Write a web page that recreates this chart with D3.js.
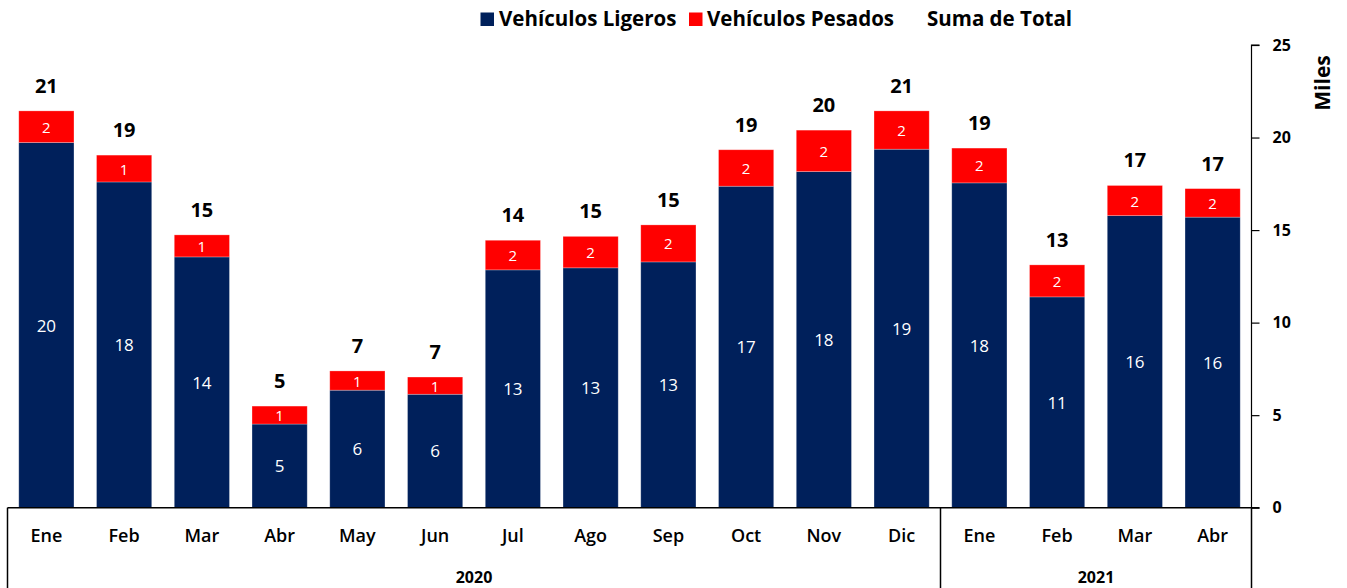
<!DOCTYPE html>
<html>
<head>
<meta charset="utf-8">
<script src="https://cdn.jsdelivr.net/npm/d3@7"></script>
<style>
  html, body { margin: 0; padding: 0; background: #fff; }
  svg { display: block; font-family: "Open Sans", "Noto Sans", sans-serif; }
</style>
</head>
<body>
<svg id="chart" width="1347" height="588"></svg>
<script>
// Monthly vehicle counts (thousands)
const months = ["Ene","Feb","Mar","Abr","May","Jun","Jul","Ago","Sep","Oct","Nov","Dic","Ene","Feb","Mar","Abr"];
const years = [{ label: "2020", start: 0, end: 12 }, { label: "2021", start: 12, end: 16 }];
const ligeros = [19.73, 17.6, 13.55, 4.52, 6.35, 6.13, 12.85, 12.96, 13.28, 17.37, 18.16, 19.37, 17.55, 11.39, 15.78, 15.7];
const pesados = [1.71, 1.45, 1.19, 0.97, 1.04, 0.93, 1.6, 1.7, 2.0, 1.97, 2.24, 2.07, 1.88, 1.73, 1.63, 1.54];
const yTicks = [0, 5, 10, 15, 20, 25];
const seriesNames = ["Vehículos Ligeros", "Vehículos Pesados", "Suma de Total"];

const colors = { ligeros: "#00205B", pesados: "#FF0000" };

const svg = d3.select("#chart");
const plotLeft = 7.5, plotRight = 1251.5, plotTop = 45, plotBottom = 507.7;

const idx = d3.range(months.length);
const x = d3.scaleBand().domain(idx).range([plotLeft, plotRight]).paddingInner(0.29).paddingOuter(0.145);
const y = d3.scaleLinear().domain([0, 25]).range([plotBottom, plotTop]);

const rows = idx.map(i => ({ i, lig: ligeros[i], pes: pesados[i], total: ligeros[i] + pesados[i] }));
const fmt = d3.format(".0f");

// Stacked bars
const g = svg.append("g");
g.selectAll("rect.lig").data(rows).join("rect").attr("class", "lig")
  .attr("x", d => x(d.i)).attr("width", x.bandwidth())
  .attr("y", d => y(d.lig)).attr("height", d => y(0) - y(d.lig))
  .attr("fill", colors.ligeros)
  .attr("stroke", "#ffffff").attr("stroke-opacity", 0.35).attr("stroke-width", 0.75);
g.selectAll("rect.pes").data(rows).join("rect").attr("class", "pes")
  .attr("x", d => x(d.i)).attr("width", x.bandwidth())
  .attr("y", d => y(d.total)).attr("height", d => y(d.lig) - y(d.total))
  .attr("fill", colors.pesados)
  .attr("stroke", "#ffffff").attr("stroke-opacity", 0.35).attr("stroke-width", 0.75);

// Segment labels
g.selectAll("text.lig").data(rows).join("text").attr("class", "lig")
  .attr("x", d => x(d.i) + x.bandwidth() / 2)
  .attr("y", d => (y(d.lig) + y(0)) / 2)
  .attr("text-anchor", "middle").attr("dominant-baseline", "central")
  .attr("fill", "#fff").attr("font-size", 17)
  .text(d => fmt(d.lig));
g.selectAll("text.pes").data(rows).join("text").attr("class", "pes")
  .attr("x", d => x(d.i) + x.bandwidth() / 2)
  .attr("y", d => (y(d.lig) + y(d.total)) / 2)
  .attr("text-anchor", "middle").attr("dominant-baseline", "central")
  .attr("fill", "#fff").attr("font-size", 15)
  .text(d => fmt(d.pes));

// Totals above bars
g.selectAll("text.tot").data(rows).join("text").attr("class", "tot")
  .attr("x", d => x(d.i) + x.bandwidth() / 2)
  .attr("y", d => y(d.total) - 18)
  .attr("text-anchor", "middle")
  .attr("fill", "#000").attr("font-size", 20).attr("font-weight", 700)
  .text(d => fmt(d.total));

// Right value axis
const yAxis = d3.axisRight(y).tickValues(yTicks).tickSize(8).tickPadding(13);
const ya = svg.append("g").attr("transform", `translate(${plotRight},0)`).call(yAxis);
ya.select(".domain").attr("stroke", "#000").attr("stroke-width", 1.2).attr("d", `M8,${plotTop}H0V${plotBottom}`);
ya.selectAll(".tick line").attr("stroke", "#000").attr("stroke-width", 1.2);
ya.selectAll(".tick text").attr("font-size", 16).attr("font-weight", 700).attr("fill", "#000")
  .attr("font-family", "'Open Sans', sans-serif");

svg.append("text")
  .attr("transform", `translate(1322,83) rotate(-90)`)
  .attr("text-anchor", "middle").attr("dominant-baseline", "central")
  .attr("font-size", 21).attr("font-weight", 700).text("Miles");

// Category axis: months and year groups
const ax = svg.append("g");
ax.append("line").attr("x1", plotLeft).attr("x2", plotRight + 8).attr("y1", plotBottom).attr("y2", plotBottom)
  .attr("stroke", "#000").attr("stroke-width", 1.5);
const boundaries = [years[0].start, ...years.map(yv => yv.end)];
ax.selectAll("line.sep").data(boundaries).join("line").attr("class", "sep")
  .attr("x1", b => plotLeft + b * x.step()).attr("x2", b => plotLeft + b * x.step())
  .attr("y1", plotBottom).attr("y2", 588)
  .attr("stroke", "#000").attr("stroke-width", 1.5);
ax.selectAll("text.month").data(rows).join("text").attr("class", "month")
  .attr("x", d => x(d.i) + x.bandwidth() / 2)
  .attr("y", 542)
  .attr("text-anchor", "middle")
  .attr("font-size", 18).attr("font-weight", 600).attr("fill", "#000")
  .text(d => months[d.i]);
ax.selectAll("text.year").data(years).join("text").attr("class", "year")
  .attr("x", yv => plotLeft + (yv.start + yv.end) / 2 * x.step())
  .attr("y", 583)
  .attr("text-anchor", "middle")
  .attr("font-size", 16).attr("font-weight", 700).attr("fill", "#000")
  .text(yv => yv.label);

// Legend
const legend = svg.append("g");
const legendItems = [
  { name: seriesNames[0], color: colors.ligeros, sx: 480.5, tx: 499 },
  { name: seriesNames[1], color: colors.pesados, sx: 689, tx: 707 },
  { name: seriesNames[2], color: null, sx: 0, tx: 927 }
];
legendItems.forEach(it => {
  if (it.color) {
    legend.append("rect").attr("x", it.sx).attr("y", 12.5).attr("width", 13.5).attr("height", 13.5).attr("fill", it.color);
  }
  legend.append("text").attr("x", it.tx).attr("y", 26)
    .attr("font-size", 20.5).attr("font-weight", 700).attr("fill", "#000")
    .text(it.name);
});
</script>
</body>
</html>
